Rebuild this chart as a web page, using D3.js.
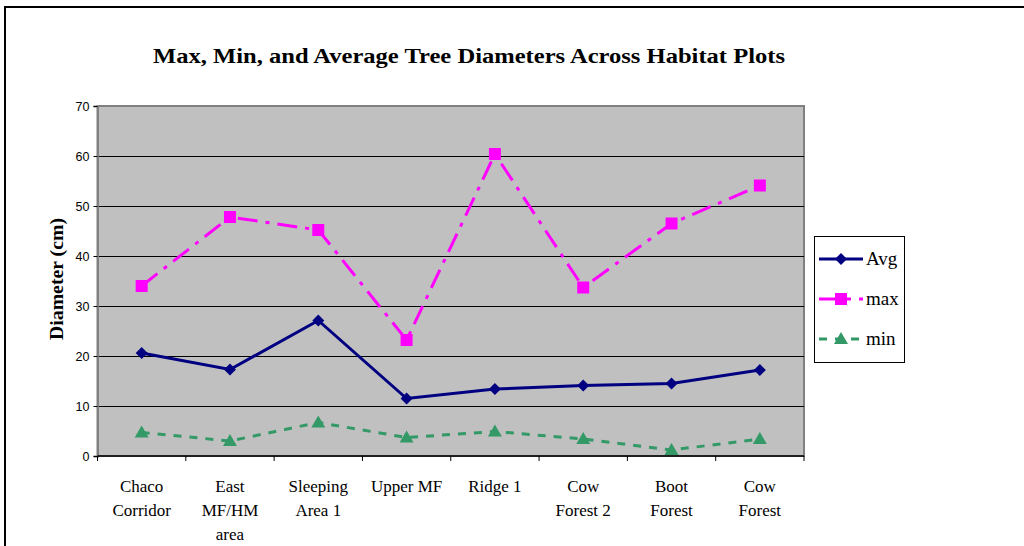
<!DOCTYPE html>
<html><head><meta charset="utf-8">
<script src="https://cdn.jsdelivr.net/npm/d3@7"></script>
<style>body{margin:0;background:#fff;}svg{display:block;}</style>
</head><body>
<svg id="c" width="1024" height="546"></svg>
<script>
const categories = [["Chaco","Corridor"],["East","MF/HM","area"],["Sleeping","Area 1"],["Upper MF"],["Ridge 1"],["Cow","Forest 2"],["Boot","Forest"],["Cow","Forest"]];
const avgValues = [20.6, 17.3, 27.1, 11.5, 13.4, 14.1, 14.5, 17.2];
const maxValues = [34.0, 47.8, 45.2, 23.2, 60.4, 33.7, 46.5, 54.1];
const minValues = [4.7, 3.0, 6.7, 3.7, 4.9, 3.4, 1.2, 3.4];
const yTicks = [0, 10, 20, 30, 40, 50, 60, 70];
const seriesNames = ["Avg", "max", "min"];

const svg = d3.select("#c");
const L = 97.5, R = 804, T = 106, B = 456;
const keys = categories.map((c, i) => i);
const x = d3.scaleBand().domain(keys).range([L, R]);
const y = d3.scaleLinear().domain([0, 70]).range([B, T]);
const serif = "'Liberation Serif','Times New Roman',serif";

// outer frame
svg.append("path").attr("d", "M5,546 V7 H1024").attr("fill", "none").attr("stroke", "#000").attr("stroke-width", 2);

// title
svg.append("text").attr("x", 469).attr("y", 63).attr("text-anchor", "middle")
  .attr("font-family", serif).attr("font-weight", "bold")
  .attr("font-size", 21).attr("textLength", 632).attr("lengthAdjust", "spacingAndGlyphs")
  .text("Max, Min, and Average Tree Diameters Across Habitat Plots");

// plot area
svg.append("rect").attr("x", L).attr("y", T).attr("width", R - L).attr("height", B - T)
  .attr("fill", "#C0C0C0").attr("stroke", "#808080").attr("stroke-width", 2);

// gridlines
svg.append("g").selectAll("line").data(yTicks.filter(d => d > 0 && d < 70)).join("line")
  .attr("x1", L).attr("x2", R).attr("y1", d => Math.round(y(d)) + 0.5).attr("y2", d => Math.round(y(d)) + 0.5)
  .attr("stroke", "#000").attr("stroke-width", 1);

// y axis
const yAxis = svg.append("g").attr("transform", `translate(${L},0)`)
  .call(d3.axisLeft(y).tickValues(yTicks).tickSize(4).tickPadding(4));
yAxis.select(".domain").attr("stroke", "#808080").attr("stroke-width", 2);
yAxis.selectAll(".tick line").attr("stroke", "#000");
yAxis.selectAll("text").attr("font-family", "'Liberation Sans',Arial,sans-serif").attr("font-size", 12.5).attr("fill", "#000");

// x axis
const xAxis = svg.append("g").attr("transform", `translate(0,${B})`);
xAxis.append("line").attr("x1", L).attr("x2", R).attr("y1", 0).attr("y2", 0).attr("stroke", "#000").attr("stroke-width", 1.5);
const bounds = keys.map(k => x(k)).concat([R]);
xAxis.selectAll("line.t").data(bounds).join("line").attr("class", "t")
  .attr("x1", d => d).attr("x2", d => d).attr("y1", 0).attr("y2", 5).attr("stroke", "#000");
const xl = xAxis.selectAll("text").data(categories).join("text")
  .attr("text-anchor", "middle")
  .attr("font-family", serif).attr("font-size", 17).attr("fill", "#000");
xl.each(function(lines, i) {
  d3.select(this).selectAll("tspan").data(lines).join("tspan")
    .attr("x", x(i) + x.bandwidth() / 2).attr("y", (d, j) => 36 + j * 24).text(d => d);
});

// y label
svg.append("text").attr("transform", "translate(63,279) rotate(-90)").attr("text-anchor", "middle")
  .attr("font-family", serif).attr("font-weight", "bold")
  .attr("font-size", 18).attr("textLength", 122).attr("lengthAdjust", "spacingAndGlyphs").text("Diameter (cm)");

const cx = i => x(i) + x.bandwidth() / 2;
const line = d3.line().x((d, i) => cx(i)).y(d => y(d));

const series = [
  {name: seriesNames[0], values: avgValues, color: "#000080", dash: null, width: 3, marker: "diamond"},
  {name: seriesNames[1], values: maxValues, color: "#FF00FF", dash: "20,8,4,8", width: 3, marker: "square"},
  {name: seriesNames[2], values: minValues, color: "#339966", dash: "8,8", width: 3, marker: "triangle"}
];

function marker(g, type, color, px, py) {
  if (type === "diamond") {
    g.append("path").attr("d", `M${px},${py-6}L${px+6},${py}L${px},${py+6}L${px-6},${py}Z`).attr("fill", color);
  } else if (type === "square") {
    g.append("rect").attr("x", px - 6).attr("y", py - 6).attr("width", 12).attr("height", 12).attr("fill", color);
  } else {
    g.append("path").attr("d", `M${px},${py-7}L${px+7},${py+5}L${px-7},${py+5}Z`).attr("fill", color);
  }
}

series.slice().reverse().forEach(s => {
  const g = svg.append("g");
  g.append("path").attr("d", line(s.values)).attr("fill", "none").attr("stroke", s.color)
    .attr("stroke-width", s.width).attr("stroke-dasharray", s.dash);
  s.values.forEach((v, i) => marker(g, s.marker, s.color, cx(i), y(v)));
});

// legend
const lg = svg.append("g");
lg.append("rect").attr("x", 814.5).attr("y", 236.5).attr("width", 90).attr("height", 126)
  .attr("fill", "#fff").attr("stroke", "#000").attr("stroke-width", 1);
series.forEach((s, i) => {
  const yy = 259 + i * 40;
  lg.append("line").attr("x1", 819).attr("x2", 863).attr("y1", yy).attr("y2", yy)
    .attr("stroke", s.color).attr("stroke-width", 3).attr("stroke-dasharray", s.dash);
  marker(lg, s.marker, s.color, 841, yy);
  lg.append("text").attr("x", 866).attr("y", yy + 6).attr("font-family", serif)
    .attr("font-size", 19).text(s.name);
});
</script>
</body></html>
